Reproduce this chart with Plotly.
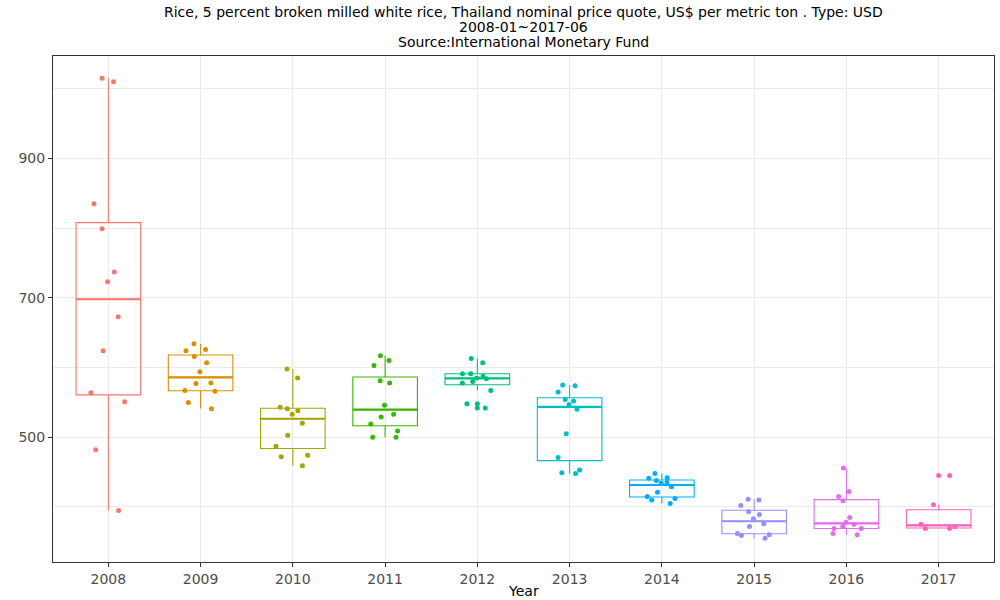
import numpy as np
import plotly.graph_objects as go

# monthly prices per year (US$ per metric ton)
years = ["2008", "2009", "2010", "2011", "2012", "2013", "2014", "2015", "2016", "2017"]
p2008 = [395, 482, 551, 1010, 1015, 835, 799, 737, 723, 673, 564, 624]
p2009 = [634, 626, 624, 616, 607, 594, 578, 577, 567, 566, 550, 541]
p2010 = [598, 585, 543, 541, 538, 533, 520, 503, 487, 474, 472, 459]
p2011 = [617, 610, 603, 581, 578, 546, 533, 529, 519, 509, 500, 500]
p2012 = [613, 607, 591, 591, 587, 584, 585, 580, 578, 567, 548, 542]
p2013 = [575, 574, 565, 554, 552, 547, 540, 505, 471, 453, 448, 449]
p2014 = [448, 442, 441, 438, 434, 435, 429, 421, 415, 412, 410, 405]
p2015 = [410, 411, 402, 393, 389, 383, 376, 372, 360, 359, 362, 355]
p2016 = [456, 422, 415, 409, 385, 378, 375, 372, 369, 369, 360, 362]
p2017 = [369, 372, 375, 369, 403, 445]
prices = [p2008, p2009, p2010, p2011, p2012, p2013, p2014, p2015, p2016, p2017]

colors = ["#F8766D", "#D89000", "#A3A500", "#39B600", "#00BF7D",
          "#00BFC4", "#00B0F6", "#9590FF", "#E76BF3", "#FF62BC"]

title_lines = [
    "Rice, 5 percent broken milled white rice, Thailand nominal price quote, US$ per metric ton . Type: USD",
    "2008-01~2017-06",
    "Source:International Monetary Fund",
]

font_name = "DejaVu Sans"
box_w = 0.7


def box_stats(vals):
    # same rules as ggplot's stat_boxplot (R quantile type 7, 1.5 IQR whiskers)
    a = np.array(vals, dtype=float)
    q1, med, q3 = np.percentile(a, [25, 50, 75])
    iqr = q3 - q1
    inside = a[(a >= q1 - 1.5 * iqr) & (a <= q3 + 1.5 * iqr)]
    outl = a[(a < q1 - 1.5 * iqr) | (a > q3 + 1.5 * iqr)]
    return q1, med, q3, inside.min(), inside.max(), list(outl)


fig = go.Figure()
for yr, vals, col in zip(years, prices, colors):
    q1, med, q3, lo, hi, outl = box_stats(vals)
    fig.add_trace(go.Box(
        x=[yr], q1=[q1], median=[med], q3=[q3], lowerfence=[lo], upperfence=[hi],
        width=box_w, line=dict(color=col, width=1.1), fillcolor="rgba(255,255,255,0)",
        whiskerwidth=0, showlegend=False, hoverinfo="skip"
    ))
    # thicker median bar, like ggplot's fatten=2
    fig.add_trace(go.Box(
        x=[yr], q1=[med], median=[med], q3=[med], lowerfence=[med], upperfence=[med],
        width=box_w, line=dict(color=col, width=2.2), fillcolor="rgba(0,0,0,0)",
        whiskerwidth=0, showlegend=False, hoverinfo="skip"
    ))
    # outliers on the centre line
    if outl:
        fig.add_trace(go.Scatter(
            x=[yr] * len(outl), y=outl, mode="markers",
            marker=dict(color=col, size=5), showlegend=False, hoverinfo="y"
        ))
    # jittered raw points on top
    fig.add_trace(go.Box(
        x=[yr] * len(vals), y=vals, width=box_w,
        boxpoints="all", jitter=0.65, pointpos=0,
        line=dict(color="rgba(0,0,0,0)", width=0), fillcolor="rgba(0,0,0,0)",
        marker=dict(color=col, size=5), whiskerwidth=0,
        showlegend=False, hoverinfo="y"
    ))

annos = []
for i, line in enumerate(title_lines):
    annos.append(dict(
        text=line, x=0.5, xref="paper", y=1, yref="paper",
        xanchor="center", yanchor="middle", yshift=44 - 15 * i, showarrow=False,
        font=dict(family=font_name, size=14, color="black")
    ))
annos.append(dict(
    text="Year", x=0.5, xref="paper", y=0, yref="paper",
    xanchor="center", yanchor="top", yshift=-19, showarrow=False,
    font=dict(family=font_name, size=14, color="black")
))

fig.update_layout(
    template="none",
    width=1000, height=600,
    margin=dict(l=53, r=6, t=56, b=38),
    paper_bgcolor="white", plot_bgcolor="white",
    boxmode="overlay",
    font=dict(family=font_name, size=14, color="#4D4D4D"),
    xaxis=dict(
        type="category", categoryorder="array", categoryarray=years,
        range=[-0.6, 9.6], automargin=False,
        showgrid=True, gridcolor="#EBEBEB", gridwidth=1,
        showline=True, mirror=True, linecolor="#333333", linewidth=1,
        ticks="outside", ticklen=4, tickcolor="#333333",
        tickfont=dict(size=14, color="#4D4D4D"),
    ),
    yaxis=dict(
        range=[321, 1047], tickvals=[500, 700, 900], automargin=False,
        showgrid=True, gridcolor="#EBEBEB", gridwidth=1, zeroline=False,
        showline=True, mirror=True, linecolor="#333333", linewidth=1,
        ticks="outside", ticklen=4, tickcolor="#333333",
        tickfont=dict(size=14, color="#4D4D4D"),
        minor=dict(tickvals=[400, 600, 800, 1000], showgrid=True,
                   gridcolor="#EBEBEB", gridwidth=0.6, ticklen=0)
    ),
    annotations=annos,
)

# drop the default page margin so the figure sits at the window's corner
fig.write_html("out.html", config={"displayModeBar": False},
               post_script="document.body.style.margin='0';")
